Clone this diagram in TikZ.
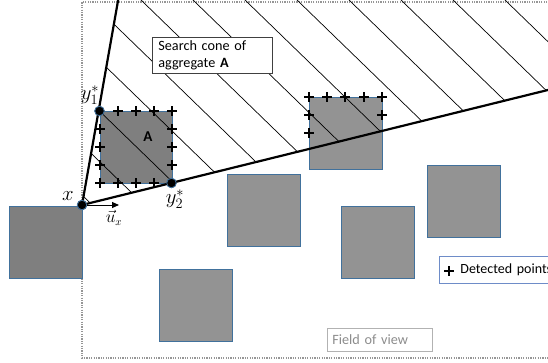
\documentclass[tikz,border=0pt]{standalone}
\usepackage{fontspec}
\setmainfont{Carlito}
\usetikzlibrary{arrows.meta}
\definecolor{sqborder}{RGB}{65,113,156}
\definecolor{sqdark}{RGB}{127,127,127}
\definecolor{sqlight}{RGB}{147,147,147}
\definecolor{fovgray}{RGB}{150,150,150}
\definecolor{fovtext}{RGB}{140,140,140}
\definecolor{legblue}{RGB}{110,140,200}
\begin{document}
\begin{tikzpicture}[x=1pt,y=-1pt,
  block/.style={draw=sqborder, line width=0.8pt, minimum width=73pt, minimum height=72pt, inner sep=0pt, anchor=north west},
  darkblock/.style={block, fill=sqdark},
  lightblock/.style={block, fill=sqlight},
  conel/.style={line width=2.2pt, black},
  hatch/.style={line width=0.7pt, black},
  dotnode/.style={circle, fill=black, draw=sqborder, line width=0.8pt, minimum size=9.5pt, inner sep=0pt},
  plusmark/.pic={\draw[line width=2.2pt] (-5,0)--(5,0) (0,-5)--(0,5);},
  lab/.style={font=\fontsize{14.2}{16.5}\selectfont, inner sep=0pt},
  mlab/.style={font=\fontsize{20}{20}\selectfont, inner sep=0pt}
]
\useasboundingbox (0,0) rectangle (548,362);
\clip (0,0) rectangle (548,362);

% field of view
\draw[fovgray, line width=1.4pt, dash pattern=on 1.2pt off 1.2pt] (600,2) -- (82,2) -- (82,358) -- (600,358);

% squares
\node[darkblock] (s0) at (9,205.5) {};
\node[darkblock, minimum width=72pt] (sA) at (100,111) {};
\node[lightblock] (s2) at (309,97) {};
\node[lightblock] (s3) at (227,174) {};
\node[lightblock] (s4) at (427,165) {};
\node[lightblock] (s5) at (341,206) {};
\node[lightblock] (s6) at (159,269) {};

% hatching of the cone
\begin{scope}
  \clip (82,205) -- (118.5,-5) -- (560,-5) -- (560,87) -- cycle;
  \foreach \k in {-3,...,12} {
    \draw[hatch] ({-15+52*\k-10},{-10*0.97}) -- ({-15+52*\k+300},{300*0.97});
  }
\end{scope}

% search cone label
\node[lab, draw=black!75, line width=0.8pt, fill=white, align=left, anchor=north west,
      minimum width=120pt, minimum height=36pt, inner xsep=6pt, text width=108pt] (sc) at (152,37)
  {Search cone of\\aggregate \textbf{A}};

% point x and cone lines
\coordinate (c1) at (118.5,-2);
\coordinate (c2) at (560,87);
\node[dotnode] (x) at (82,205) {};
\node[dotnode] (y1) at (99.5,111) {};
\node[dotnode] (y2) at (171.5,183) {};
\draw[conel] (x.center) -- (c1);
\draw[conel] (x.center) -- (c2);

% unit vector
\coordinate (ue) at (119,205);
\draw[line width=1pt, -{Triangle[length=7pt,width=6pt]}] (x.center) -- (ue);

% detected points on A
\foreach \px in {118,136,154,172} { \pic at (\px,111) {plusmark}; }
\foreach \py in {129,147,165} { \pic at (172,\py) {plusmark}; \pic at (100,\py) {plusmark}; }
\foreach \px in {100,118,136,154} { \pic at (\px,183) {plusmark}; }
% detected points on second square
\foreach \px in {309,327,345,364,382} { \pic at (\px,97) {plusmark}; }
\pic at (309,115) {plusmark};
\pic at (309,133) {plusmark};
\pic at (382,115) {plusmark};

% redraw dots on top
\node[dotnode] at (x) {};
\node[dotnode] at (y1) {};
\node[dotnode] at (y2) {};

% labels
\node[lab, font=\fontsize{15}{17}\selectfont\bfseries] (Alab) at (148,137) {A};
\node[mlab] (xlab) at (68,196) {$x$};
\node[mlab] (y1lab) at (90,95) {$y_1^*$};
\node[mlab] (y2lab) at (175,199) {$y_2^*$};
\node[mlab, font=\fontsize{16}{16}\selectfont] (ulab) at (114,218) {$\vec{u}_x$};

% legend
\node[lab, font=\fontsize{14}{17}\selectfont, draw=legblue, line width=0.8pt, fill=white, anchor=north west, minimum height=27pt,
      minimum width=130pt, text width=118pt, inner xsep=6pt, align=left] (leg) at (439,256)
  {\hspace*{15pt}Detected points};
\pic at (449,271) {plusmark};

\node[lab, draw=black!30, line width=0.8pt, text=fovtext, anchor=north west, minimum height=23pt,
      minimum width=105pt, text width=95pt, inner xsep=5pt, align=left] (fov) at (327,328) {Field of view};
\end{tikzpicture}
\end{document}
